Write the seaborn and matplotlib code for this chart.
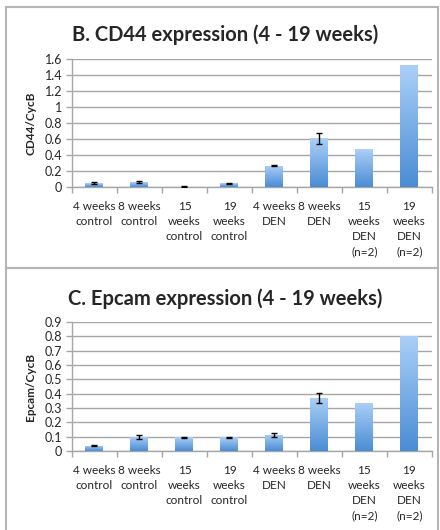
import numpy as np
import pandas as pd
import seaborn as sns
import matplotlib
matplotlib.use("Agg")
import matplotlib.pyplot as plt
from matplotlib.patches import Rectangle
from matplotlib.colors import LinearSegmentedColormap
from matplotlib.ticker import FuncFormatter, FixedLocator

# data
categories = [
    "4 weeks\ncontrol", "8 weeks\ncontrol", "15\nweeks\ncontrol", "19\nweeks\ncontrol",
    "4 weeks\nDEN", "8 weeks\nDEN", "15\nweeks\nDEN\n(n=2)", "19\nweeks\nDEN\n(n=2)",
]
cd44_vals = [0.05, 0.06, 0.005, 0.045, 0.265, 0.61, 0.475, 1.52]
cd44_err = [0.008, 0.01, 0.002, 0.005, 0.005, 0.07, 0, 0]
epcam_vals = [0.037, 0.098, 0.097, 0.095, 0.113, 0.37, 0.338, 0.805]
epcam_err = [0.005, 0.013, 0.004, 0.004, 0.012, 0.037, 0, 0]

sns.set_theme(style="white")
plt.rcParams["font.family"] = ["Lato", "DejaVu Sans"]

GRID = "#a6a6a6"
grad = LinearSegmentedColormap.from_list("bar", ["#4a8cd4", "#abd0f7"])


def draw_panel(ax, vals, errs, ylabel, ymax, step):
    df = pd.DataFrame({"cat": categories, "val": vals})
    sns.barplot(data=df, x="cat", y="val", color="#7fb2ea", width=0.4,
                ax=ax, zorder=2, linewidth=0)
    # vertical gradient fill clipped to each bar
    g = np.linspace(0, 1, 256).reshape(-1, 1)
    for p, e in zip(ax.patches, errs):
        x0, w, h = p.get_x(), p.get_width(), p.get_height()
        im = ax.imshow(g, cmap=grad, origin="lower", aspect="auto",
                       extent=[x0, x0 + w, 0, h], zorder=3)
        im.set_clip_path(p)
        if e > 0:
            ax.errorbar(x0 + w / 2, h, yerr=e, fmt="none", ecolor="black",
                        elinewidth=1, capsize=2.5, capthick=1, zorder=4)
    ax.set_xlim(-0.5, len(categories) - 0.5)
    ax.set_ylim(0, ymax)
    ticks = np.arange(0, ymax + step / 2, step)
    ax.set_yticks(ticks)
    ax.yaxis.set_major_formatter(FuncFormatter(lambda v, _: f"{v:g}"))
    ax.yaxis.grid(True, color=GRID, linewidth=1)
    ax.set_axisbelow(True)
    ax.set_xlabel("")
    ax.set_ylabel(ylabel, fontsize=8.5, fontweight="bold", labelpad=6)
    for s in ["top", "right"]:
        ax.spines[s].set_visible(False)
    for s in ["left", "bottom"]:
        ax.spines[s].set_color(GRID)
        ax.spines[s].set_linewidth(1)
    ax.xaxis.set_minor_locator(FixedLocator(np.arange(-0.5, len(categories), 1)))
    ax.tick_params(axis="x", which="major", length=0, labelsize=8.5, pad=10)
    ax.tick_params(axis="x", which="minor", bottom=True, length=4, color=GRID, width=1)
    ax.tick_params(axis="y", left=True, length=4, color=GRID, width=1,
                   labelsize=9, pad=3)
    for t in ax.get_xticklabels():
        t.set_linespacing(1.45)
        t.set_verticalalignment("top")


fig = plt.figure(figsize=(4.4, 5.3), dpi=100)
ax1 = fig.add_axes([0.1636, 0.6472, 0.818, 0.2415])
ax2 = fig.add_axes([0.1636, 0.149, 0.818, 0.2434])

draw_panel(ax1, cd44_vals, cd44_err, "CD44/CycB", 1.6, 0.2)
draw_panel(ax2, epcam_vals, epcam_err, "Epcam/CycB", 0.9, 0.1)

# panel titles
fig.text(225 / 440, 1 - 35 / 530, "B. CD44 expression (4 - 19 weeks)",
         ha="center", va="center", fontsize=14.5, fontweight="bold")
fig.text(225 / 440, 1 - 299 / 530, "C. Epcam expression (4 - 19 weeks)",
         ha="center", va="center", fontsize=14.5, fontweight="bold")

# panel borders
for y0, y1 in [(7, 268), (268, 535)]:
    fig.patches.append(Rectangle((6 / 440, 1 - y1 / 530), 432 / 440, (y1 - y0) / 530,
                                 transform=fig.transFigure, fill=False,
                                 edgecolor="#b5b5b5", linewidth=1.5))

fig.savefig("out.png", dpi=100)
